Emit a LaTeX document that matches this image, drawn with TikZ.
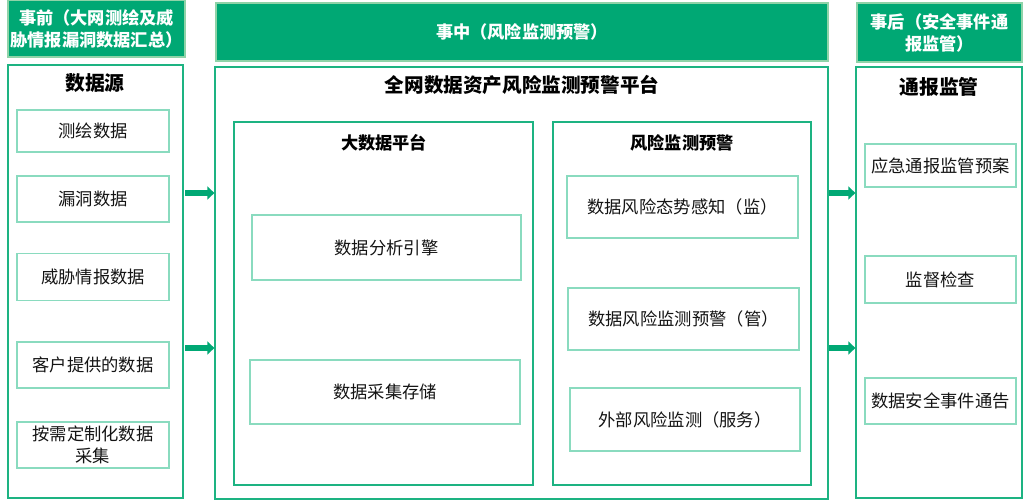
\documentclass[tikz,border=0pt]{standalone}
\usepackage{fontspec}
\setmainfont{Noto Sans CJK SC}
\usetikzlibrary{arrows.meta}
\definecolor{hdrgreen}{HTML}{00A874}
\definecolor{hdrline}{HTML}{8FD3A8}
\definecolor{colline}{HTML}{1DB382}
\definecolor{inline}{HTML}{8ADBBF}
\definecolor{arrgreen}{HTML}{00A874}
\definecolor{txt}{HTML}{141414}
\tikzset{
  hdr/.style={draw=hdrline, line width=1.2pt, fill=hdrgreen, text=white, inner sep=0pt,
    font=\fontsize{17.2}{22}\selectfont\bfseries, align=center},
  colbox/.style={draw=colline, line width=1.3pt, fill=white, inner sep=0pt},
  panel/.style={draw=colline, line width=1.3pt, inner sep=0pt},
  inbox/.style={draw=inline, line width=1.3pt, fill=white, inner sep=0pt, text=txt,
    font=\fontsize{17.3}{22}\selectfont, align=center},
  ttl/.style={inner sep=0pt, text=black, font=\fontsize{19.8}{24}\selectfont\bfseries},
  subttl/.style={inner sep=0pt, text=black, font=\fontsize{17.2}{22}\selectfont\bfseries},
  flow/.style={draw=arrgreen, line width=6.5pt, -{Triangle[length=7pt,width=13pt]}}
}
\begin{document}
\begin{tikzpicture}[x=1pt,y=-1pt]
\useasboundingbox (0,0) rectangle (1025,500);
% headers
\node[hdr, minimum width=177pt, minimum height=57pt] (hl) at (96.5,28.5) {事前（大网测绘及威\\胁情报漏洞数据汇总）};
\node[hdr, minimum width=612pt, minimum height=58pt] (hm) at (522,32) {事中（风险监测预警）};
\node[hdr, minimum width=165pt, minimum height=59pt] (hr) at (939.5,32.5) {事后（安全事件通\\报监管）};
% columns
\node[colbox, minimum width=175pt, minimum height=433pt] (lc) at (95.5,281.5) {};
\node[colbox, minimum width=613pt, minimum height=432pt] (mc) at (521.5,283) {};
\node[colbox, minimum width=166pt, minimum height=431pt] (rc) at (939,282.5) {};
% left column
\node[ttl] (lt) at (95,83) {数据源};
\node[inbox, minimum width=152pt, minimum height=42pt] (l1) at (93,131) {测绘数据};
\node[inbox, minimum width=152pt, minimum height=46pt] (l2) at (93,199) {漏洞数据};
\node[inbox, minimum width=152pt, minimum height=47pt] (l3) at (93,277) {威胁情报数据};
\node[inbox, minimum width=152pt, minimum height=46pt] (l4) at (93,365) {客户提供的数据};
\node[inbox, minimum width=152pt, minimum height=46pt] (l5) at (93,445) {按需定制化数据\\采集};
% middle column
\node[ttl, font=\fontsize{19.6}{24}\selectfont\bfseries] (mt) at (522,85) {全网数据资产风险监测预警平台};
\node[panel, minimum width=299pt, minimum height=363pt] (p1) at (383.5,303.5) {};
\node[subttl] (p1t) at (384,143) {大数据平台};
\node[inbox, minimum width=269pt, minimum height=65pt] (m1) at (386.5,247.5) {数据分析引擎};
\node[inbox, minimum width=270pt, minimum height=64pt] (m2) at (385,392) {数据采集存储};
\node[panel, minimum width=258pt, minimum height=363pt] (p2) at (682,303.5) {};
\node[subttl] (p2t) at (682,143) {风险监测预警};
\node[inbox, minimum width=231pt, minimum height=62pt] (m3) at (682.5,207) {数据风险态势感知（监）};
\node[inbox, minimum width=231pt, minimum height=62pt] (m4) at (683.5,319) {数据风险监测预警（管）};
\node[inbox, minimum width=230pt, minimum height=63pt] (m5) at (685,419.5) {外部风险监测（服务）};
% right column
\node[ttl] (rt) at (939,87) {通报监管};
\node[inbox, minimum width=151pt, minimum height=43pt] (r1) at (940.5,165.5) {应急通报监管预案};
\node[inbox, minimum width=151pt, minimum height=47pt] (r2) at (940.5,279.5) {监督检查};
\node[inbox, minimum width=151pt, minimum height=46pt] (r3) at (940.5,401) {数据安全事件通告};
% arrows
\coordinate (a1) at (185,193);
\coordinate (a2) at (185,348);
\draw[flow] (a1) -- (a1 -| mc.west);
\draw[flow] (a2) -- (a2 -| mc.west);
\coordinate (b1) at (829,193);
\coordinate (b2) at (829,348);
\draw[flow] (b1) -- (b1 -| rc.west);
\draw[flow] (b2) -- (b2 -| rc.west);
\end{tikzpicture}
\end{document}
